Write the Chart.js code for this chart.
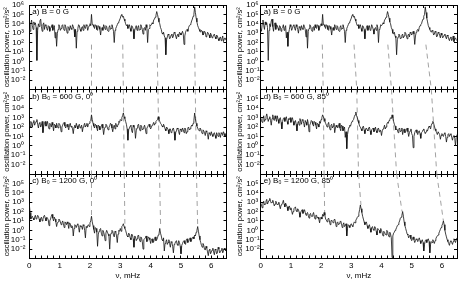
<!DOCTYPE html>
<html lang="en">
<head>
<meta charset="UTF-8">
<title>Oscillation power spectra</title>
<script src="https://cdn.jsdelivr.net/npm/chart.js@4.4.1/dist/chart.umd.min.js"></script>
<style>
  html, body { margin: 0; padding: 0; background: #fff; }
  #figure { position: relative; width: 458px; height: 282px; overflow: hidden; }
  #figure canvas { position: absolute; }
</style>
</head>
<body>
<div id="figure">
  <canvas id="panelA" width="228" height="92" style="left:0;top:0"></canvas>
  <canvas id="panelB" width="228" height="93" style="left:0;top:84px"></canvas>
  <canvas id="panelC" width="228" height="113" style="left:0;top:169px"></canvas>
  <canvas id="panelA2" width="229" height="92" style="left:229px;top:0"></canvas>
  <canvas id="panelD" width="229" height="93" style="left:229px;top:84px"></canvas>
  <canvas id="panelE" width="229" height="113" style="left:229px;top:169px"></canvas>
</div>

<script>
// frequency grid, mHz
const freq = [
  0, 0.025, 0.05, 0.075, 0.1, 0.125, 0.15, 0.175, 0.2, 0.225, 0.25, 0.275, 0.3, 0.325, 0.35, 0.375, 0.4, 0.425, 0.45, 0.475,
  0.5, 0.525, 0.55, 0.575, 0.6, 0.625, 0.65, 0.675, 0.7, 0.725, 0.75, 0.775, 0.8, 0.825, 0.85, 0.875, 0.9, 0.925, 0.95, 0.975,
  1, 1.025, 1.05, 1.075, 1.1, 1.125, 1.15, 1.175, 1.2, 1.225, 1.25, 1.275, 1.3, 1.325, 1.35, 1.375, 1.4, 1.425, 1.45, 1.475,
  1.5, 1.525, 1.55, 1.575, 1.6, 1.625, 1.65, 1.675, 1.7, 1.725, 1.75, 1.775, 1.8, 1.825, 1.85, 1.875, 1.9, 1.925, 1.95, 1.975,
  2, 2.025, 2.05, 2.075, 2.1, 2.125, 2.15, 2.175, 2.2, 2.225, 2.25, 2.275, 2.3, 2.325, 2.35, 2.375, 2.4, 2.425, 2.45, 2.475,
  2.5, 2.525, 2.55, 2.575, 2.6, 2.625, 2.65, 2.675, 2.7, 2.725, 2.75, 2.775, 2.8, 2.825, 2.85, 2.875, 2.9, 2.925, 2.95, 2.975,
  3, 3.025, 3.05, 3.075, 3.1, 3.125, 3.15, 3.175, 3.2, 3.225, 3.25, 3.275, 3.3, 3.325, 3.35, 3.375, 3.4, 3.425, 3.45, 3.475,
  3.5, 3.525, 3.55, 3.575, 3.6, 3.625, 3.65, 3.675, 3.7, 3.725, 3.75, 3.775, 3.8, 3.825, 3.85, 3.875, 3.9, 3.925, 3.95, 3.975,
  4, 4.025, 4.05, 4.075, 4.1, 4.125, 4.15, 4.175, 4.2, 4.225, 4.25, 4.275, 4.3, 4.325, 4.35, 4.375, 4.4, 4.425, 4.45, 4.475,
  4.5, 4.525, 4.55, 4.575, 4.6, 4.625, 4.65, 4.675, 4.7, 4.725, 4.75, 4.775, 4.8, 4.825, 4.85, 4.875, 4.9, 4.925, 4.95, 4.975,
  5, 5.025, 5.05, 5.075, 5.1, 5.125, 5.15, 5.175, 5.2, 5.225, 5.25, 5.275, 5.3, 5.325, 5.35, 5.375, 5.4, 5.425, 5.45, 5.475,
  5.5, 5.525, 5.55, 5.575, 5.6, 5.625, 5.65, 5.675, 5.7, 5.725, 5.75, 5.775, 5.8, 5.825, 5.85, 5.875, 5.9, 5.925, 5.95, 5.975,
  6, 6.025, 6.05, 6.075, 6.1, 6.125, 6.15, 6.175, 6.2, 6.225, 6.25, 6.275, 6.3, 6.325, 6.35, 6.375, 6.4, 6.425, 6.45, 6.475, 6.5
];

// log10 of oscillation power (cm^2/s^2)
const logPowerA = [
  3.5, 3.2, 4.0, 4.4, 3.8, 3.4, 4.2, 3.9, 4.1, 3.6, 0.1, 3.3, 4.0, 3.7, 4.3, 4.5, 3.7, 3.2, 3.9, 4.1,
  3.4, 3.9, 3.8, 3.5, 3.3, 3.8, 3.7, 3.2, 3.5, 3.6, 3.9, 3.3, 3.6, 3.8, 2.5, 3.1, 1.6, 3.0, 3.4, 3.9,
  3.7, 3.3, 3.5, 3.8, 3.9, 3.5, 3.3, 3.9, 3.7, 3.4, 3.0, 3.7, 3.6, 3.3, 3.8, 3.5, 3.4, 3.9, 3.7, 3.4,
  2.6, 3.4, 1.4, 3.2, 3.5, 3.9, 3.8, 3.4, 3.2, 3.6, 3.7, 3.3, 3.9, 3.6, 3.5, 3.9, 3.8, 3.3, 3.6, 3.8,
  4.0, 3.8, 5.0, 3.9, 3.9, 3.7, 3.5, 3.9, 3.8, 3.4, 3.3, 3.8, 3.7, 3.4, 2.8, 3.5, 3.6, 3.3, 3.9, 3.7,
  3.4, 3.8, 3.7, 3.3, 3.2, 3.6, 3.8, 3.4, 3.5, 3.9, 3.6, 3.2, 2.0, 3.3, 3.5, 3.7, 3.9, 4.1, 4.2, 4.4,
  4.6, 4.9, 5.0, 4.7, 4.8, 4.5, 4.3, 4.0, 3.8, 3.9, 3.5, 3.7, 3.9, 3.5, 3.2, 3.8, 3.7, 3.4, 2.4, 3.3,
  3.6, 3.8, 3.3, 3.6, 3.8, 3.3, 3.4, 3.9, 3.7, 3.4, 2.9, 3.5, 3.6, 3.3, 3.9, 3.6, 2.0, 3.4, 3.5, 3.9,
  3.8, 3.9, 4.1, 4.0, 4.4, 4.5, 4.7, 4.9, 5.3, 5.0, 4.6, 4.2, 4.0, 3.6, 3.4, 3.0, 2.9, 3.1, 2.7, 2.5,
  0.7, 2.3, 2.6, 2.9, 2.8, 2.4, 2.5, 2.8, 2.9, 2.5, 2.7, 3.1, 3.0, 2.7, 2.4, 2.8, 2.9, 2.6, 3.1, 3.0,
  2.8, 3.0, 3.2, 2.9, 1.8, 2.7, 3.1, 3.3, 3.4, 3.2, 3.6, 3.8, 3.9, 4.0, 4.3, 4.5, 4.8, 5.0, 5.8, 5.2,
  4.6, 4.2, 3.8, 3.6, 3.4, 3.2, 3.1, 3.3, 3.2, 2.8, 2.9, 3.2, 3.1, 2.6, 2.7, 3.1, 3.0, 2.8, 2.5, 3.0,
  2.8, 2.5, 2.6, 2.8, 2.9, 2.6, 2.4, 2.8, 2.7, 2.4, 2.2, 2.5, 2.6, 2.2, 2.4, 2.7, 2.1, 2.4, 2.5, 2.3, 2.2
];
const logPowerB = [
  2.3, 2.0, 2.6, 2.4, 2.0, 2.5, 2.7, 2.2, 2.4, 2.6, 2.8, 2.3, 1.9, 2.4, 2.5, 2.0, 2.2, 2.6, 1.4, 2.1,
  2.4, 2.6, 2.1, 2.3, 2.6, 2.1, 1.8, 2.4, 2.3, 2.0, 2.5, 2.2, 1.6, 2.3, 2.2, 1.9, 2.4, 2.1, 1.9, 2.4,
  2.3, 2.1, 1.5, 2.0, 2.2, 2.4, 2.5, 2.1, 1.9, 2.2, 2.3, 2.0, 1.7, 2.2, 2.4, 2.0, 2.1, 1.8, 1.3, 2.0,
  2.2, 1.9, 2.4, 2.1, 1.8, 2.2, 2.3, 1.9, 2.0, 2.2, 1.5, 2.0, 2.2, 2.4, 2.0, 2.2, 2.4, 2.0, 2.3, 2.4,
  2.6, 2.7, 3.3, 2.8, 2.4, 2.1, 1.9, 2.3, 2.2, 1.9, 1.6, 2.2, 2.1, 1.7, 1.8, 2.1, 2.3, 1.9, 1.2, 1.8,
  2.0, 2.3, 2.2, 1.9, 1.7, 2.0, 2.1, 2.4, 2.3, 1.9, 1.5, 2.0, 2.2, 1.8, 2.4, 2.1, 2.0, 2.3, 2.6, 2.5,
  2.8, 2.7, 3.0, 3.2, 3.5, 3.1, 2.9, 2.6, 2.3, 1.8, 0.6, 1.7, 1.9, 2.1, 2.2, 1.6, 1.4, 2.2, 2.0, 1.9,
  0.8, 1.6, 1.9, 2.2, 2.3, 1.9, 1.6, 2.2, 2.1, 1.7, 1.8, 2.0, 2.2, 1.8, 1.3, 1.9, 2.0, 2.2, 2.3, 2.0,
  1.8, 2.0, 2.2, 2.3, 2.5, 2.2, 2.4, 2.6, 2.7, 2.8, 3.1, 2.8, 2.6, 2.4, 2.3, 2.1, 2.0, 2.3, 2.1, 1.8,
  1.6, 2.0, 1.9, 1.7, 1.3, 1.8, 1.8, 1.4, 1.5, 1.8, 1.9, 1.5, 0.6, 1.4, 1.6, 1.9, 1.8, 1.5, 1.2, 1.8,
  1.7, 1.5, 1.9, 1.7, 1.4, 1.9, 1.8, 1.3, 1.5, 1.9, 2.0, 1.7, 1.8, 2.0, 2.2, 2.1, 2.4, 2.7, 3.5, 2.9,
  2.4, 2.1, 1.9, 1.7, 1.6, 1.9, 1.8, 1.5, 1.3, 1.7, 1.6, 1.4, 1.1, 1.6, 1.5, 1.2, 0.7, 1.4, 1.3, 1.1,
  1.5, 1.2, 1.0, 1.3, 1.4, 1.1, 0.8, 1.4, 1.2, 1.0, 1.4, 1.2, 0.9, 1.4, 1.3, 1.1, 1.5, 1.3, 1.0, 1.2, 1.4
];
const logPowerC = [
  2.8, 1.9, 1.2, 1.4, 1.5, 1.3, 1.1, 1.4, 1.6, 1.2, 1.3, 1.6, 1.5, 1.2, 0.9, 1.3, 1.4, 1.0, 1.2, 1.5,
  1.6, 1.3, 1.0, 1.4, 1.3, 1.1, 0.5, 1.0, 1.2, 1.5, 1.7, 1.3, 1.0, 1.4, 1.2, 0.9, 0.4, 0.8, 0.9, 1.2,
  1.1, 0.9, 0.6, 0.8, 1.0, 0.7, 0.3, 0.9, 0.8, 0.6, 0.9, 0.7, 0.2, 0.8, 0.7, 0.3, 0.5, 0.4, -0.6, 0.2,
  0.6, 0.5, 0.3, 0.6, 0.7, 0.3, -0.2, 0.5, 0.4, 0.4, 0.1, 0.6, 0.5, 0.0, -0.8, 0.4, 0.3, 0.5, 0.6, 0.4,
  0.8, 1.0, 1.5, 0.9, 0.5, 0.1, -0.3, 0.3, 0.2, -0.2, -1.7, -0.4, -0.1, 0.1, 0.2, -0.3, -0.6, 0.0, -0.2, -0.5,
  -1.1, -0.3, 0.0, -0.2, -0.4, -0.6, -2.0, -0.5, -0.3, 0.0, -0.1, -0.5, -0.7, -0.1, -0.2, -0.6, -1.3, -0.4, 0.0, -0.1,
  0.2, -0.1, 0.4, 0.5, 0.7, 0.4, 0.2, 0.0, -0.3, -0.6, -0.7, -0.3, -0.4, -0.8, -1.0, -0.4, -0.5, -0.9, -1.8, -0.6,
  -0.7, -1.1, -0.9, -0.6, -0.5, -0.9, -1.2, -0.7, -0.8, -1.2, -2.0, -1.0, -0.9, -0.8, -0.6, -1.2, -1.1, -0.7, -0.8, -1.0,
  -1.4, -1.0, -0.9, -1.3, -1.2, -0.9, -0.7, -1.1, -1.0, -0.8, -0.5, -0.4, 0.2, -0.3, -0.6, -1.0, -1.1, -0.8, -2.2, -1.4,
  -1.2, -1.0, -1.5, -1.3, -1.0, -1.4, -1.8, -1.2, -1.3, -1.7, -2.4, -1.5, -1.4, -1.2, -1.1, -1.5, -1.6, -1.1, -1.3, -1.7,
  -2.5, -1.6, -1.4, -1.2, -1.1, -1.4, -1.5, -1.0, -0.9, -1.3, -1.2, -1.0, -0.8, -1.2, -1.0, -0.8, -0.7, -0.9, -0.5, -0.6,
  -0.2, 0.0, 0.4, -0.1, -0.6, -1.0, -1.3, -1.6, -1.8, -1.4, -1.6, -2.0, -2.1, -1.7, -1.9, -2.3, -2.7, -2.1, -2.0, -2.5,
  -2.3, -2.1, -1.9, -2.3, -2.6, -2.0, -2.1, -2.5, -2.4, -1.8, -2.0, -2.4, -2.3, -2.1, -1.9, -2.4, -2.2, -1.9, -2.0, -2.2, -1.8
];
const logPowerD = [
  3.0, 2.7, 2.5, 2.9, 3.2, 2.6, 2.8, 3.1, 3.4, 3.0, 2.6, 2.9, 3.1, 2.7, 2.2, 2.9, 3.3, 2.8, 2.7, 3.2,
  2.9, 2.6, 3.2, 2.8, 2.4, 2.9, 3.0, 2.5, 1.8, 2.6, 2.9, 3.0, 2.6, 2.9, 3.1, 2.6, 2.3, 2.9, 2.8, 3.0,
  2.5, 2.8, 3.0, 2.6, 2.2, 2.5, 2.7, 2.3, 1.6, 2.4, 2.6, 2.2, 2.9, 2.6, 2.3, 2.8, 2.7, 2.4, 2.0, 2.7,
  2.5, 2.2, 2.8, 2.4, 1.5, 2.2, 2.4, 2.7, 2.6, 2.3, 2.1, 2.6, 2.5, 2.2, 1.8, 2.4, 2.3, 2.0, 2.6, 2.4,
  2.8, 3.0, 3.3, 3.1, 2.9, 2.6, 2.4, 2.2, 2.0, 2.3, 2.5, 2.0, 1.7, 2.2, 2.3, 1.9, 2.1, 2.4, 1.4, 1.9,
  2.2, 2.0, 1.9, 2.1, 2.4, 1.9, 1.6, 2.2, 2.1, 1.6, 1.8, 2.0, 0.9, 1.5, -0.3, 1.2, 1.7, 2.0, 2.2, 2.1,
  2.4, 2.6, 2.7, 2.8, 3.1, 3.3, 3.6, 3.2, 3.0, 2.7, 2.4, 2.1, 2.0, 1.8, 1.6, 2.0, 2.1, 1.7, 1.3, 1.8,
  1.9, 1.7, 1.6, 1.9, 2.0, 1.6, 1.2, 1.7, 1.8, 1.9, 1.5, 1.7, 2.0, 1.6, 1.4, 1.8, 1.9, 1.5, 1.7, 1.6,
  1.1, 1.6, 1.8, 1.9, 2.2, 1.8, 2.0, 2.3, 2.5, 2.4, 2.7, 2.8, 3.0, 2.9, 3.3, 3.0, 2.6, 2.3, 2.1, 1.7,
  1.8, 1.7, 1.4, 1.8, 1.9, 1.5, 1.6, 1.9, 1.2, 1.6, 1.8, 1.4, 1.5, 1.7, 1.9, 1.5, 1.0, 1.4, 1.6, 1.8,
  1.3, 1.1, -0.2, 1.0, 1.4, 1.6, 1.7, 1.4, 1.2, 1.5, 1.6, 1.3, 0.8, 1.4, 1.5, 1.7, 1.8, 1.5, 1.3, 1.5,
  1.7, 1.6, 1.9, 2.1, 2.0, 1.8, 2.2, 2.4, 2.6, 2.4, 2.1, 1.8, 1.6, 1.4, 1.2, 1.5, 1.5, 1.2, 0.7, 1.1,
  1.3, 1.1, 1.0, 1.3, 1.4, 1.0, 0.4, 0.9, 1.2, 1.3, 1.0, 1.2, 1.3, 0.9, 0.6, 1.0, 1.1, 0.8, 0.0, 0.9, 1.2
];
const logPowerE = [
  2.9, 2.7, 2.4, 2.9, 3.1, 2.7, 2.8, 3.1, 3.3, 2.8, 3.0, 3.2, 3.4, 3.1, 2.9, 3.0, 3.2, 2.9, 2.6, 2.8,
  3.1, 2.9, 2.7, 2.8, 3.0, 2.6, 2.3, 2.7, 2.8, 2.9, 3.2, 2.8, 2.5, 2.9, 2.7, 2.5, 2.1, 2.5, 2.6, 2.2,
  2.4, 2.1, 1.7, 2.0, 2.3, 2.4, 2.5, 2.1, 2.0, 2.3, 2.2, 1.9, 1.4, 1.9, 2.1, 2.2, 1.8, 2.0, 2.2, 1.9,
  1.6, 1.8, 1.9, 1.6, 1.3, 1.7, 1.8, 1.5, 1.5, 1.7, 1.9, 1.5, 1.2, 1.6, 1.6, 1.3, 1.4, 1.2, 0.8, 1.3,
  1.4, 1.2, 1.7, 1.5, 1.9, 1.6, 1.2, 1.1, 0.9, 1.2, 1.3, 1.0, 0.6, 1.0, 1.1, 0.9, 0.8, 1.1, 1.2, 0.9,
  0.4, 0.8, 0.9, 0.6, 0.7, 0.9, 1.0, 0.7, 0.3, 0.6, 0.8, 0.4, 0.5, 0.7, -0.6, 0.2, 0.6, 0.5, 0.3, 0.6,
  0.7, 0.5, 0.4, 0.7, 0.9, 0.8, 1.1, 1.2, 1.4, 1.5, 1.8, 2.2, 2.7, 2.3, 1.9, 1.5, 1.2, 0.9, 0.6, 0.8,
  0.9, 0.5, 0.2, 0.4, 0.6, 0.2, -0.2, 0.3, 0.4, 0.1, 0.0, 0.4, 0.3, -0.1, -0.5, 0.2, 0.1, 0.0, -0.3, 0.2,
  0.0, -0.3, -0.6, -0.1, -0.2, -0.4, -0.5, 0.0, -0.1, -0.5, -0.7, -0.2, -0.4, -0.8, -2.9, -0.6, -0.3, -0.2, 0.0, 0.1,
  0.3, 0.5, 0.6, 0.8, 1.0, 1.3, 1.4, 1.6, 2.0, 1.5, 0.9, 0.5, 0.2, -0.1, -0.4, -0.5, -0.8, -0.6, -0.5, -0.9,
  -1.1, -0.9, -0.7, -1.0, -1.3, -1.1, -0.9, -1.0, -1.2, -1.0, -0.8, -1.1, -1.4, -1.2, -1.0, -1.3, -2.2, -1.5, -1.1, -1.0,
  -1.3, -1.0, -0.9, -1.2, -2.4, -1.5, -1.2, -1.3, -1.0, -1.2, -1.4, -1.1, -0.9, -0.7, -0.6, -0.5, -0.3, -0.1, 0.1, 0.3,
  0.5, 0.7, 1.0, 0.6, 0.0, -0.4, -0.7, -1.0, -1.2, -1.4, -1.6, -1.2, -1.1, -1.3, -1.5, -1.2, -0.9, -1.1, -1.3, -1.0, -0.8
];

// dashed guide lines: x (mHz) at panel top, panel borders and end point
const leftGuideTop = [2.05, 3.08, 4.21, 5.45];
const leftGuideAB = [2.05, 3.10, 4.24, 5.47];
const leftGuideBC = [2.05, 3.13, 4.29, 5.51];
const leftGuideEnd = [2.05, 3.15, 4.33, 5.55];
const leftGuideEndPower = [30, 5, 2, 3];
const rightGuideTop = [2.04, 3.09, 4.21, 5.47];
const rightGuideAD = [2.07, 3.18, 4.33, 5.65];
const rightGuideDE = [2.10, 3.24, 4.50, 5.83];
const rightGuideEnd = [2.12, 3.32, 4.68, 6.05];
const rightGuideEndPower = [20, 500, 100, 10];
const guideStartPower = 60;

// axes
const powerMin = 1e-3, powerMax = 1e6;
const powerTicks = [1e-3, 1e-2, 1e-1, 1, 10, 100, 1e3, 1e4, 1e5, 1e6];
const powerLabels = ['', '10⁻²', '10⁻¹', '10⁰', '10¹', '10²', '10³', '10⁴', '10⁵', '10⁶'];
const freqTicks = [0, 0.2, 0.4, 0.6, 0.8, 1, 1.2, 1.4, 1.6, 1.8, 2, 2.2, 2.4, 2.6, 2.8,
  3, 3.2, 3.4, 3.6, 3.8, 4, 4.2, 4.4, 4.6, 4.8, 5, 5.2, 5.4, 5.6, 5.8, 6, 6.2, 6.4];

const FONT = '"Liberation Sans", Arial, sans-serif';
Chart.defaults.font.family = FONT;
Chart.defaults.color = '#000';

const panelLabel = {
  id: 'panelLabel',
  afterDraw(chart, args, opts) {
    const { ctx, chartArea } = chart;
    ctx.save();
    ctx.font = '8px ' + FONT;
    ctx.fillStyle = '#000';
    ctx.textBaseline = 'top';
    ctx.fillText(opts.text, chartArea.left + 3, chartArea.top + 3);
    ctx.restore();
  }
};

const segs = (x0, y0, x1, y1) => x0.map((x, i) => [
  { x: x, y: Array.isArray(y0) ? y0[i] : y0 },
  { x: x1[i], y: Array.isArray(y1) ? y1[i] : y1 }
]);

// no automatic label overflow padding, panels must butt against each other
function noPad(s) {
  s.paddingTop = 0; s.paddingBottom = 0; s.paddingLeft = 0; s.paddingRight = 0;
}

function frameAxis(type, position, min, max, ticks) {
  return {
    type: type, position: position, min: min, max: max,
    afterBuildTicks: s => { s.ticks = ticks.map(v => ({ value: v })); },
    afterFit: s => {
      if (position === 'top' || position === 'bottom') s.height = 0; else s.width = 0;
      noPad(s);
    },
    ticks: { display: false },
    grid: { drawOnChartArea: false, tickLength: -3, color: '#000' },
    border: { display: true, color: '#000', width: 1 }
  };
}

function createPanelChart(id, logPower, label, guides, p) {
  const ctx = document.getElementById(id).getContext('2d');
  const datasets = [{
    data: logPower.map((e, i) => ({ x: freq[i], y: Math.pow(10, e) })),
    borderColor: '#111', borderWidth: 0.8, pointRadius: 0, tension: 0
  }];
  guides.forEach(g => datasets.push({
    data: g, borderColor: '#8a8a8a', borderWidth: 0.8, borderDash: [5, 4], pointRadius: 0
  }));

  new Chart(ctx, {
    type: 'line',
    data: { datasets: datasets },
    options: {
      responsive: false,
      animation: false,
      devicePixelRatio: 1,
      layout: { padding: p.padding },
      plugins: {
        legend: { display: false },
        tooltip: { enabled: false },
        panelLabel: { text: label }
      },
      scales: {
        x: {
          type: 'linear', position: 'bottom', min: 0, max: 6.5,
          afterBuildTicks: s => { s.ticks = freqTicks.map(v => ({ value: v })); },
          afterFit: s => { s.height = p.bottom ? 23.5 : 0; noPad(s); },
          ticks: {
            display: p.bottom, autoSkip: false, maxRotation: 0, padding: 5,
            font: { size: 8 },
            callback: v => Number.isInteger(v) ? String(v) : ''
          },
          grid: { drawOnChartArea: false, tickLength: -3, color: '#000' },
          border: { display: true, color: '#000', width: 1 },
          title: { display: p.bottom, text: 'ν, mHz', font: { size: 8 }, padding: { top: 0, bottom: 1 } }
        },
        xTop: frameAxis('linear', 'top', 0, 6.5, freqTicks),
        y: {
          type: 'logarithmic', position: 'left', min: powerMin, max: powerMax,
          afterBuildTicks: s => { s.ticks = powerTicks.map(v => ({ value: v })); },
          afterFit: s => { s.width = p.yWidth; noPad(s); },
          ticks: {
            autoSkip: false, crossAlign: 'center', padding: p.tickPad,
            font: { size: 8 },
            callback: (v, i) => (p.top || i < powerLabels.length - 1) ? powerLabels[i] : ''
          },
          grid: { drawOnChartArea: false, tickLength: -3, color: '#000' },
          border: { display: true, color: '#000', width: 1 },
          title: {
            display: true, text: 'oscillation power, cm²/s²',
            font: { size: 7.5 }, padding: { top: p.titlePad, bottom: 0 }
          }
        },
        yRight: frameAxis('logarithmic', 'right', powerMin, powerMax, powerTicks)
      }
    },
    plugins: [panelLabel]
  });
}

const rows = [
  { padding: { top: 5, bottom: 2.5 }, top: true, bottom: false },
  { padding: { top: 5.5, bottom: 3 }, top: false, bottom: false },
  { padding: { top: 5, bottom: 0 }, top: false, bottom: true }
];
const cols = [
  { yWidth: 29.3, tickPad: 7, titlePad: 2, right: 1.5 },
  { yWidth: 31.7, tickPad: 4, titlePad: 6, right: 1 }
];
function place(r, c) {
  const row = rows[r], col = cols[c];
  return {
    padding: { top: row.padding.top, bottom: row.padding.bottom, left: 0, right: col.right },
    top: row.top, bottom: row.bottom,
    yWidth: col.yWidth, tickPad: col.tickPad, titlePad: col.titlePad
  };
}

const bottomOut = [powerMin, powerMin, powerMin, powerMin];
const topOut = [powerMax, powerMax, powerMax, powerMax];

createPanelChart('panelA', logPowerA, 'a) B = 0 G',
  segs(leftGuideTop, guideStartPower, leftGuideAB, bottomOut), place(0, 0));
createPanelChart('panelB', logPowerB, 'b) B₀ = 600 G, 0⁰',
  segs(leftGuideAB, topOut, leftGuideBC, bottomOut), place(1, 0));
createPanelChart('panelC', logPowerC, 'c) B₀ = 1200 G, 0⁰',
  segs(leftGuideBC, topOut, leftGuideEnd, leftGuideEndPower), place(2, 0));
createPanelChart('panelA2', logPowerA, 'a) B = 0 G',
  segs(rightGuideTop, guideStartPower, rightGuideAD, bottomOut), place(0, 1));
createPanelChart('panelD', logPowerD, 'd) B₀ = 600 G, 85⁰',
  segs(rightGuideAD, topOut, rightGuideDE, bottomOut), place(1, 1));
createPanelChart('panelE', logPowerE, 'e) B₀ = 1200 G, 85⁰',
  segs(rightGuideDE, topOut, rightGuideEnd, rightGuideEndPower), place(2, 1));
</script>
</body>
</html>
